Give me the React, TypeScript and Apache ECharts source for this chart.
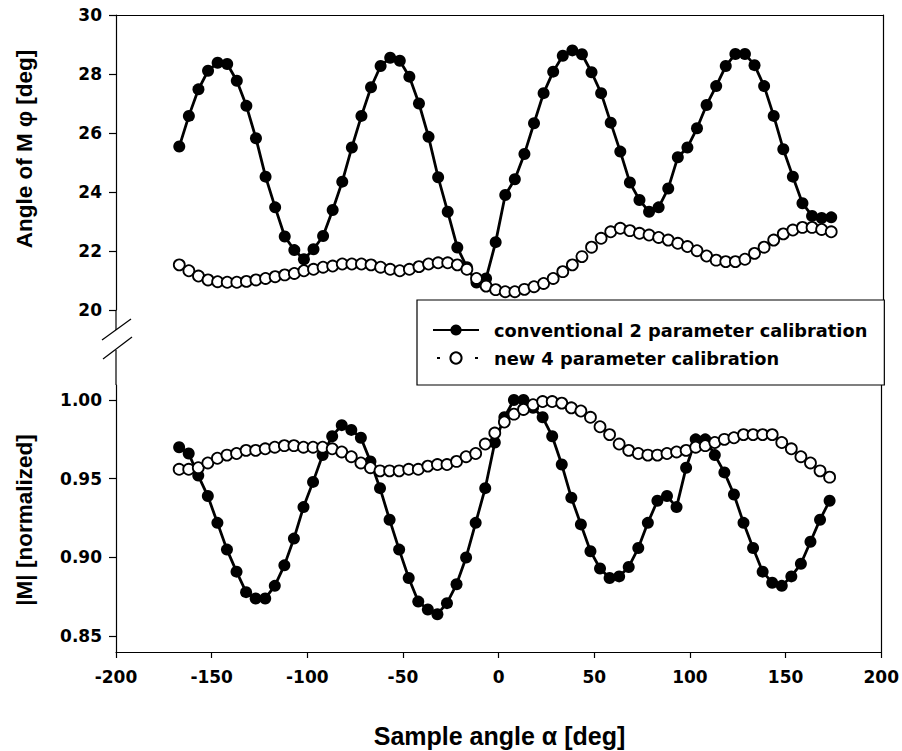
import React, { useEffect, useRef } from "react";
import * as echarts from "echarts";

// Sample angle alpha [deg]
const angles = [
  -167, -162, -157, -152, -147, -142, -137, -132, -127, -122, -117, -112, -107, -102,
  -97, -92, -87, -82, -77, -72, -67, -62, -57, -52, -47, -42, -37, -32, -27, -22, -17,
  -12, -7, -2, 3, 8, 13, 18, 23, 28, 33, 38, 43, 48, 53, 58, 63, 68, 73, 78, 83, 88, 93,
  98, 103, 108, 113, 118, 123, 128, 133, 138, 143, 148, 153, 158, 163, 168, 173,
];

// Angle of M phi [deg]
const phiConventional = [
  25.54, 26.58, 27.48, 28.11, 28.38, 28.34, 27.77, 26.92, 25.82, 24.52, 23.48, 22.49, 22.03,
  21.72, 22.06, 22.51, 23.39, 24.35, 25.51, 26.58, 27.55, 28.27, 28.55, 28.45, 27.91, 27.0,
  25.87, 24.5, 23.33, 22.12, 21.45, 20.93, 21.07, 22.3, 23.9, 24.43, 25.29, 26.33, 27.35,
  28.08, 28.62, 28.8, 28.67, 28.06, 27.35, 26.35, 25.37, 24.32, 23.73, 23.33, 23.48, 24.12,
  25.18, 25.51, 26.16, 26.95, 27.59, 28.27, 28.68, 28.68, 28.3, 27.59, 26.58, 25.45, 24.52,
  23.62, 23.19, 23.12, 23.14,
];
const phiNew = [
  21.53, 21.33, 21.15, 21.02, 20.96, 20.94, 20.94, 20.97, 21.02, 21.07, 21.13, 21.19, 21.24,
  21.33, 21.38, 21.45, 21.49, 21.56, 21.56, 21.56, 21.53, 21.45, 21.38, 21.33, 21.38, 21.47,
  21.56, 21.6, 21.6, 21.53, 21.38, 21.07, 20.81, 20.69, 20.62, 20.62, 20.7, 20.79, 20.9,
  21.07, 21.3, 21.53, 21.81, 22.13, 22.43, 22.65, 22.77, 22.69, 22.6, 22.54, 22.46, 22.37,
  22.26, 22.15, 22.01, 21.83, 21.69, 21.64, 21.64, 21.72, 21.92, 22.13, 22.37, 22.58, 22.71,
  22.8, 22.8, 22.73, 22.65,
];

// |M| [normalized]
const mConventional = [
  0.97, 0.966, 0.952, 0.939, 0.922, 0.905, 0.891, 0.878, 0.874, 0.874, 0.882, 0.895, 0.912,
  0.932, 0.948, 0.965, 0.977, 0.984, 0.981, 0.976, 0.961, 0.944, 0.924, 0.905, 0.887, 0.872,
  0.867, 0.864, 0.871, 0.883, 0.9, 0.922, 0.944, 0.973, 0.989, 1.0, 1.0, 0.995, 0.989, 0.977,
  0.959, 0.938, 0.921, 0.904, 0.893, 0.887, 0.888, 0.894, 0.906, 0.922, 0.936, 0.939, 0.932,
  0.957, 0.975, 0.975, 0.965, 0.954, 0.94, 0.922, 0.906, 0.891, 0.884, 0.882, 0.888, 0.896,
  0.91, 0.924, 0.936,
];
const mNew = [
  0.956, 0.956, 0.957, 0.96, 0.963, 0.965, 0.966, 0.968, 0.968, 0.969, 0.97, 0.971, 0.971,
  0.97, 0.97, 0.97, 0.969, 0.967, 0.964, 0.96, 0.957, 0.955, 0.955, 0.955, 0.956, 0.956,
  0.958, 0.959, 0.959, 0.961, 0.964, 0.966, 0.972, 0.979, 0.986, 0.991, 0.994, 0.997, 0.999,
  0.999, 0.998, 0.995, 0.993, 0.989, 0.983, 0.978, 0.972, 0.968, 0.966, 0.965, 0.965, 0.966,
  0.967, 0.968, 0.97, 0.971, 0.973, 0.975, 0.976, 0.978, 0.978, 0.978, 0.978, 0.973, 0.969,
  0.964, 0.96, 0.955, 0.951,
];

const xTicks = { min: -200, max: 200, interval: 50 };
const phiTicks = { min: 20, max: 30, interval: 2 };
const mTickValues = [0.85, 0.9, 0.95, 1.0];
const mRange = { min: 0.84, max: 1.0095 };

const NAME_CONV = "conventional 2 parameter calibration";
const NAME_NEW = "new 4 parameter calibration";

const pairs = (ys: number[]) => angles.map((a, i) => [a, ys[i]]);

const tickFont = {
  fontFamily: "DejaVu Sans",
  fontWeight: "bold" as const,
  fontSize: 17,
  color: "#000",
};
const lineStyle = { color: "#000", width: 1.2 };

export default function App() {
  const ref = useRef<HTMLDivElement>(null);
  useEffect(() => {
    if (!ref.current) return;
    const chart = echarts.init(ref.current, undefined, { renderer: "svg" });
    const convSeries = {
      type: "line",
      name: NAME_CONV,
      symbol: "circle",
      symbolSize: 12,
      lineStyle: { color: "#000", width: 2.8 },
      itemStyle: { color: "#000" },
      emphasis: { disabled: true },
      silent: true,
    };
    const newSeries = {
      type: "line",
      name: NAME_NEW,
      symbol: "circle",
      symbolSize: 11,
      lineStyle: { color: "#000", width: 3, type: [3, 35], dashOffset: -4 },
      itemStyle: { color: "#fff", borderColor: "#000", borderWidth: 1.8 },
      emphasis: { disabled: true },
      silent: true,
    };
    const option: any = {
      animation: false,
      backgroundColor: "#fff",
      grid: [
        { left: 116, right: 19, top: 15, height: 295 },
        { left: 116, right: 19, top: 385, bottom: 99 },
      ],
      legend: {
        data: [NAME_CONV, NAME_NEW],
        orient: "vertical",
        left: 417,
        top: 300,
        backgroundColor: "#fff",
        borderColor: "#000",
        borderWidth: 1.2,
        borderRadius: 0,
        padding: [19, 17, 16, 15],
        itemWidth: 46,
        itemHeight: 14,
        itemGap: 6,
        selectedMode: false,
        z: 10,
        textStyle: {
          fontFamily: "DejaVu Sans",
          fontWeight: "bold",
          fontSize: 17.8,
          color: "#000",
          lineHeight: 22,
          padding: [0, 0, 0, 10],
        },
      },
      xAxis: [
        {
          gridIndex: 0,
          type: "value",
          position: "top",
          ...xTicks,
          axisLine: { show: true, onZero: false, lineStyle },
          axisTick: { show: false },
          axisLabel: { show: false },
          splitLine: { show: false },
        },
        {
          gridIndex: 1,
          type: "value",
          position: "bottom",
          ...xTicks,
          axisLine: { show: true, onZero: false, lineStyle },
          axisTick: { show: true, inside: false, length: 6, lineStyle },
          axisLabel: { ...tickFont, margin: 16 },
          splitLine: { show: false },
        },
      ],
      yAxis: [
        {
          gridIndex: 0,
          type: "value",
          position: "left",
          ...phiTicks,
          axisLine: { show: true, onZero: false, lineStyle },
          axisTick: { show: true, inside: false, length: 7, lineStyle },
          axisLabel: { ...tickFont, margin: 14 },
          splitLine: { show: false },
        },
        {
          gridIndex: 0,
          type: "value",
          position: "right",
          ...phiTicks,
          axisLine: { show: true, onZero: false, lineStyle },
          axisTick: { show: false },
          axisLabel: { show: false },
          splitLine: { show: false },
        },
        {
          gridIndex: 1,
          type: "value",
          position: "left",
          ...mRange,
          axisLine: { show: true, onZero: false, lineStyle },
          axisTick: {
            show: true,
            inside: false,
            length: 7,
            lineStyle,
            customValues: mTickValues,
          },
          axisLabel: {
            ...tickFont,
            margin: 14,
            customValues: mTickValues,
            formatter: (v: number) => v.toFixed(2),
          },
          splitLine: { show: false },
        },
        {
          gridIndex: 1,
          type: "value",
          position: "right",
          ...mRange,
          axisLine: { show: true, onZero: false, lineStyle },
          axisTick: { show: false },
          axisLabel: { show: false },
          splitLine: { show: false },
        },
      ],
      series: [
        { ...convSeries, xAxisIndex: 0, yAxisIndex: 0, data: pairs(phiConventional) },
        { ...newSeries, xAxisIndex: 0, yAxisIndex: 0, data: pairs(phiNew) },
        { ...convSeries, xAxisIndex: 1, yAxisIndex: 2, data: pairs(mConventional) },
        { ...newSeries, xAxisIndex: 1, yAxisIndex: 2, data: pairs(mNew) },
      ],
      graphic: [
        { type: "line", shape: { x1: 116, y1: 310, x2: 116, y2: 330 }, style: { stroke: "#000", lineWidth: 1.2 } },
        { type: "line", shape: { x1: 116, y1: 350, x2: 116, y2: 385 }, style: { stroke: "#000", lineWidth: 1.2 } },
        { type: "line", shape: { x1: 102, y1: 340, x2: 131, y2: 319 }, style: { stroke: "#000", lineWidth: 1.2 } },
        { type: "line", shape: { x1: 103, y1: 359, x2: 132, y2: 337 }, style: { stroke: "#000", lineWidth: 1.2 } },
        {
          type: "text",
          x: 24,
          y: 149,
          rotation: Math.PI / 2,
          style: {
            text: "Angle of M φ [deg]",
            fontFamily: "Liberation Sans, Arial, sans-serif",
            fontWeight: "bold",
            fontSize: 22.5,
            fill: "#000",
            textAlign: "center",
            textVerticalAlign: "middle",
          },
        },
        {
          type: "text",
          x: 24,
          y: 520,
          rotation: Math.PI / 2,
          style: {
            text: "|M| [normalized]",
            fontFamily: "Liberation Sans, Arial, sans-serif",
            fontWeight: "bold",
            fontSize: 22.5,
            fill: "#000",
            textAlign: "center",
            textVerticalAlign: "middle",
          },
        },
        {
          type: "text",
          x: 499.5,
          y: 736,
          style: {
            text: "Sample angle α [deg]",
            fontFamily: "Liberation Sans, Arial, sans-serif",
            fontWeight: "bold",
            fontSize: 25,
            fill: "#000",
            textAlign: "center",
            textVerticalAlign: "middle",
          },
        },
      ],
    };
    chart.setOption(option);
    return () => chart.dispose();
  }, []);
  return (
    <div
      ref={ref}
      style={{ position: "fixed", left: 0, top: 0, width: 902, height: 751, background: "#fff" }}
    />
  );
}
